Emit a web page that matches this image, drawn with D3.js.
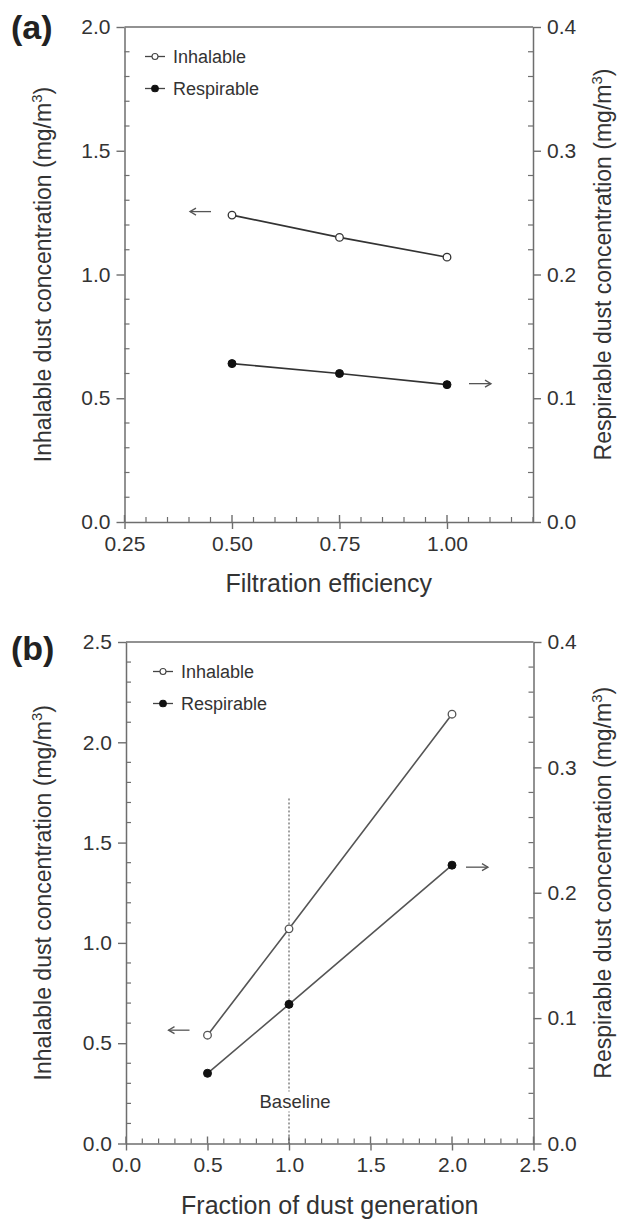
<!DOCTYPE html>
<html>
<head>
<meta charset="utf-8">
<script src="https://cdn.jsdelivr.net/npm/d3@7"></script>
<style>
  html, body { margin: 0; padding: 0; background: #fff; }
  svg { display: block; font-family: "Liberation Sans", Arial, sans-serif; }
</style>
</head>
<body>
<svg id="chart" width="626" height="1223"></svg>
<script>
// ---------- data ----------
const seriesNames = ["Inhalable", "Respirable"];

// Panel (a): filtration efficiency
const panelA_x = [0.50, 0.75, 1.00];
const panelA_inhalable = [1.24, 1.15, 1.07];      // left axis, mg/m3
const panelA_respirable = [0.128, 0.120, 0.111];  // right axis, mg/m3
const panelA_xTicks = [0.25, 0.50, 0.75, 1.00];
const panelA_xTickLabels = ["0.25", "0.50", "0.75", "1.00"];
const panelA_yLeftTicks = [0.0, 0.5, 1.0, 1.5, 2.0];
const panelA_yLeftTickLabels = ["0.0", "0.5", "1.0", "1.5", "2.0"];
const panelA_yRightTicks = [0.0, 0.1, 0.2, 0.3, 0.4];
const panelA_yRightTickLabels = ["0.0", "0.1", "0.2", "0.3", "0.4"];

// Panel (b): fraction of dust generation
const panelB_x = [0.5, 1.0, 2.0];
const panelB_inhalable = [0.54, 1.07, 2.14];
const panelB_respirable = [0.056, 0.111, 0.222];
const panelB_xTicks = [0.0, 0.5, 1.0, 1.5, 2.0, 2.5];
const panelB_xTickLabels = ["0.0", "0.5", "1.0", "1.5", "2.0", "2.5"];
const panelB_yLeftTicks = [0.0, 0.5, 1.0, 1.5, 2.0, 2.5];
const panelB_yLeftTickLabels = ["0.0", "0.5", "1.0", "1.5", "2.0", "2.5"];
const panelB_yRightTicks = [0.0, 0.1, 0.2, 0.3, 0.4];
const panelB_yRightTickLabels = ["0.0", "0.1", "0.2", "0.3", "0.4"];
const panelB_baselineX = 1.0;
const panelB_baselineTop = 1.72;
const panelB_baselineLabel = "Baseline";

const leftTitle = "Inhalable dust concentration (mg/m";
const rightTitle = "Respirable dust concentration (mg/m";

// ---------- style ----------
const AXIS = "#6e6e6e";
const TEXT = "#333";
const tickFont = 21, titleFont = 23, xTitleFont = 25, legendFont = 18;

const svg = d3.select("#chart");

function drawPanel(cfg) {
  const g = svg.append("g");
  const x = d3.scaleLinear().domain(cfg.xDomain).range([cfg.left, cfg.right]);
  const yL = d3.scaleLinear().domain(cfg.yLDomain).range([cfg.bottom, cfg.top]);
  const yR = d3.scaleLinear().domain(cfg.yRDomain).range([cfg.bottom, cfg.top]);

  // frame top line
  g.append("line").attr("x1", cfg.left).attr("x2", cfg.right).attr("y1", cfg.top).attr("y2", cfg.top)
    .attr("stroke", AXIS).attr("stroke-width", 1.5);

  // bottom axis
  const xAxis = d3.axisBottom(x).tickValues(cfg.xTicks).tickFormat((d, i) => cfg.xTickLabels[i])
    .tickSizeInner(7).tickSizeOuter(0).tickPadding(7);
  const gx = g.append("g").attr("transform", `translate(0,${cfg.bottom})`).call(xAxis);
  g.append("g").selectAll("line").data(cfg.xMinor).join("line")
    .attr("x1", d => x(d)).attr("x2", d => x(d)).attr("y1", cfg.bottom).attr("y2", cfg.bottom - 5)
    .attr("stroke", AXIS).attr("stroke-width", 1.2);
  g.append("g").selectAll("line").data(cfg.xTicks).join("line")
    .attr("x1", d => x(d)).attr("x2", d => x(d)).attr("y1", cfg.bottom).attr("y2", cfg.bottom - 7)
    .attr("stroke", AXIS).attr("stroke-width", 1.4);

  // left axis
  const yLeftAxis = d3.axisLeft(yL).tickValues(cfg.yLTicks).tickFormat((d, i) => cfg.yLTickLabels[i])
    .tickSizeInner(8).tickSizeOuter(0).tickPadding(6);
  const gl = g.append("g").attr("transform", `translate(${cfg.left},0)`).call(yLeftAxis);
  g.append("g").selectAll("line").data(cfg.yLMinor).join("line")
    .attr("x1", cfg.left).attr("x2", cfg.left + 5).attr("y1", d => yL(d)).attr("y2", d => yL(d))
    .attr("stroke", AXIS).attr("stroke-width", 1.2);

  // right axis
  const yRightAxis = d3.axisRight(yR).tickValues(cfg.yRTicks).tickFormat((d, i) => cfg.yRTickLabels[i])
    .tickSizeInner(8).tickSizeOuter(0).tickPadding(6);
  const gr = g.append("g").attr("transform", `translate(${cfg.right},0)`).call(yRightAxis);
  g.append("g").selectAll("line").data(cfg.yRMinor).join("line")
    .attr("x1", cfg.right).attr("x2", cfg.right - 5).attr("y1", d => yR(d)).attr("y2", d => yR(d))
    .attr("stroke", AXIS).attr("stroke-width", 1.2);

  [gx, gl, gr].forEach(a => {
    a.select(".domain").attr("stroke", AXIS).attr("stroke-width", 1.5);
    a.selectAll(".tick line").attr("stroke", AXIS).attr("stroke-width", 1.4);
    a.selectAll(".tick text").attr("fill", TEXT).attr("font-size", tickFont)
      .attr("font-family", "Liberation Sans, Arial, sans-serif");
  });

  // baseline (panel b)
  if (cfg.baselineX !== undefined) {
    g.append("line").attr("x1", x(cfg.baselineX)).attr("x2", x(cfg.baselineX))
      .attr("y1", yL(cfg.baselineTop)).attr("y2", cfg.bottom)
      .attr("stroke", "#444").attr("stroke-width", 1).attr("stroke-dasharray", "2,2");
    g.append("rect").attr("x", x(cfg.baselineX) - 32).attr("y", cfg.bottom - 52).attr("width", 76).attr("height", 20)
      .attr("fill", "#fff");
    g.append("text").attr("x", x(cfg.baselineX) + 6).attr("y", cfg.bottom - 42)
      .attr("text-anchor", "middle").attr("dominant-baseline", "central")
      .attr("font-size", 18.5).attr("fill", TEXT).text(cfg.baselineLabel);
  }

  // series lines
  const lineL = d3.line().x((d, i) => x(cfg.xs[i])).y(d => yL(d));
  const lineR = d3.line().x((d, i) => x(cfg.xs[i])).y(d => yR(d));
  g.append("path").attr("d", lineL(cfg.inh)).attr("fill", "none").attr("stroke", cfg.lineColor).attr("stroke-width", 1.6);
  g.append("path").attr("d", lineR(cfg.resp)).attr("fill", "none").attr("stroke", cfg.lineColor).attr("stroke-width", 1.6);
  g.append("g").selectAll("circle").data(cfg.inh).join("circle")
    .attr("cx", (d, i) => x(cfg.xs[i])).attr("cy", d => yL(d)).attr("r", 3.8)
    .attr("fill", "#fff").attr("stroke", cfg.lineColor).attr("stroke-width", 1.3);
  g.append("g").selectAll("circle").data(cfg.resp).join("circle")
    .attr("cx", (d, i) => x(cfg.xs[i])).attr("cy", d => yR(d)).attr("r", 4)
    .attr("fill", "#111").attr("stroke", "#111").attr("stroke-width", 1);

  // arrows
  function arrow(x1, x2, yy, dir) {
    g.append("line").attr("x1", x1).attr("x2", x2).attr("y1", yy).attr("y2", yy)
      .attr("stroke", "#555").attr("stroke-width", 1.3);
    const tip = dir < 0 ? x1 : x2;
    g.append("path").attr("d", `M${tip - dir * 6},${yy - 3.5} L${tip},${yy} L${tip - dir * 6},${yy + 3.5}`)
      .attr("fill", "none").attr("stroke", "#555").attr("stroke-width", 1.3);
  }
  const px0 = x(cfg.xs[0]), py0 = yL(cfg.inh[0]);
  arrow(px0 - cfg.arrowL[0] - 21, px0 - cfg.arrowL[0], py0 - cfg.arrowL[1], -1);
  const pxn = x(cfg.xs[cfg.xs.length - 1]), pyn = yR(cfg.resp[cfg.resp.length - 1]);
  arrow(pxn + cfg.arrowR[0], pxn + cfg.arrowR[0] + 22, pyn - cfg.arrowR[1], 1);

  // legend
  const leg = g.append("g");
  seriesNames.forEach((name, i) => {
    const ly = cfg.legY[i];
    leg.append("line").attr("x1", cfg.legX).attr("x2", cfg.legX + 20).attr("y1", ly).attr("y2", ly)
      .attr("stroke", "#444").attr("stroke-width", 1.3);
    leg.append("circle").attr("cx", cfg.legX + 10).attr("cy", ly).attr("r", i === 0 ? 3 : 3.3)
      .attr("fill", i === 0 ? "#fff" : "#111").attr("stroke", i === 0 ? "#444" : "#111").attr("stroke-width", 1.1);
    leg.append("text").attr("x", cfg.legX + 28).attr("y", ly).attr("dominant-baseline", "central")
      .attr("font-size", legendFont).attr("fill", TEXT).text(name);
  });

  // axis titles
  const midY = (cfg.top + cfg.bottom) / 2;
  function title(tx, ty, str) {
    g.append("text").attr("transform", `translate(${tx},${ty}) rotate(-90)`)
      .attr("text-anchor", "middle").attr("font-size", titleFont).attr("fill", TEXT)
      .call(t => {
        t.append("tspan").text(str);
        t.append("tspan").attr("font-size", titleFont * 0.65).attr("dy", -9).text("3");
        t.append("tspan").attr("dy", 9).text(")");
      });
  }
  title(cfg.leftTitleX, midY + cfg.leftTitleDy, leftTitle);
  title(cfg.rightTitleX, midY + cfg.rightTitleDy, rightTitle);
  g.append("text").attr("x", (cfg.left + cfg.right) / 2).attr("y", cfg.bottom + 61)
    .attr("text-anchor", "middle").attr("dominant-baseline", "central")
    .attr("font-size", xTitleFont).attr("fill", TEXT).text(cfg.xTitle);

  // panel label
  g.append("text").attr("x", 11).attr("y", cfg.labelY).attr("font-size", 34).attr("font-weight", "bold")
    .attr("fill", "#222").text(cfg.label);
}

function minor(lo, hi, step, majors) {
  const out = [];
  for (let v = lo; v <= hi + 1e-9; v += step) {
    const r = Math.round(v * 1000) / 1000;
    if (!majors.some(m => Math.abs(m - r) < 1e-6)) out.push(r);
  }
  return out;
}

drawPanel({
  label: "(a)", labelY: 39,
  left: 124.5, right: 533, top: 27, bottom: 522,
  xDomain: [0.25, 1.2], yLDomain: [0, 2.0], yRDomain: [0, 0.4],
  xTicks: panelA_xTicks, xTickLabels: panelA_xTickLabels,
  xMinor: minor(0.25, 1.2, 0.05, panelA_xTicks),
  yLTicks: panelA_yLeftTicks, yLTickLabels: panelA_yLeftTickLabels, yLMinor: minor(0, 2.0, 0.1, panelA_yLeftTicks),
  yRTicks: panelA_yRightTicks, yRTickLabels: panelA_yRightTickLabels, yRMinor: minor(0, 0.4, 0.02, panelA_yRightTicks),
  xs: panelA_x, inh: panelA_inhalable, resp: panelA_respirable,
  lineColor: "#333",
  arrowL: [21, 3.5], arrowR: [22, 1],
  legX: 145, legY: [56.5, 88.5],
  leftTitleX: 51, leftTitleDy: 0, rightTitleX: 611, rightTitleDy: -10,
  xTitle: "Filtration efficiency"
});

drawPanel({
  label: "(b)", labelY: 660,
  left: 126, right: 533.5, top: 642, bottom: 1143.5,
  xDomain: [0, 2.5], yLDomain: [0, 2.5], yRDomain: [0, 0.4],
  xTicks: panelB_xTicks, xTickLabels: panelB_xTickLabels,
  xMinor: minor(0, 2.5, 0.1, panelB_xTicks),
  yLTicks: panelB_yLeftTicks, yLTickLabels: panelB_yLeftTickLabels, yLMinor: minor(0, 2.5, 0.1, panelB_yLeftTicks),
  yRTicks: panelB_yRightTicks, yRTickLabels: panelB_yRightTickLabels, yRMinor: minor(0, 0.4, 0.02, panelB_yRightTicks),
  xs: panelB_x, inh: panelB_inhalable, resp: panelB_respirable,
  lineColor: "#555",
  arrowL: [18, 5], arrowR: [14, -2],
  legX: 153, legY: [671.5, 703.5],
  baselineX: panelB_baselineX, baselineTop: panelB_baselineTop, baselineLabel: panelB_baselineLabel,
  leftTitleX: 51, leftTitleDy: 0, rightTitleX: 611, rightTitleDy: -10,
  xTitle: "Fraction of dust generation"
});
</script>
</body>
</html>
